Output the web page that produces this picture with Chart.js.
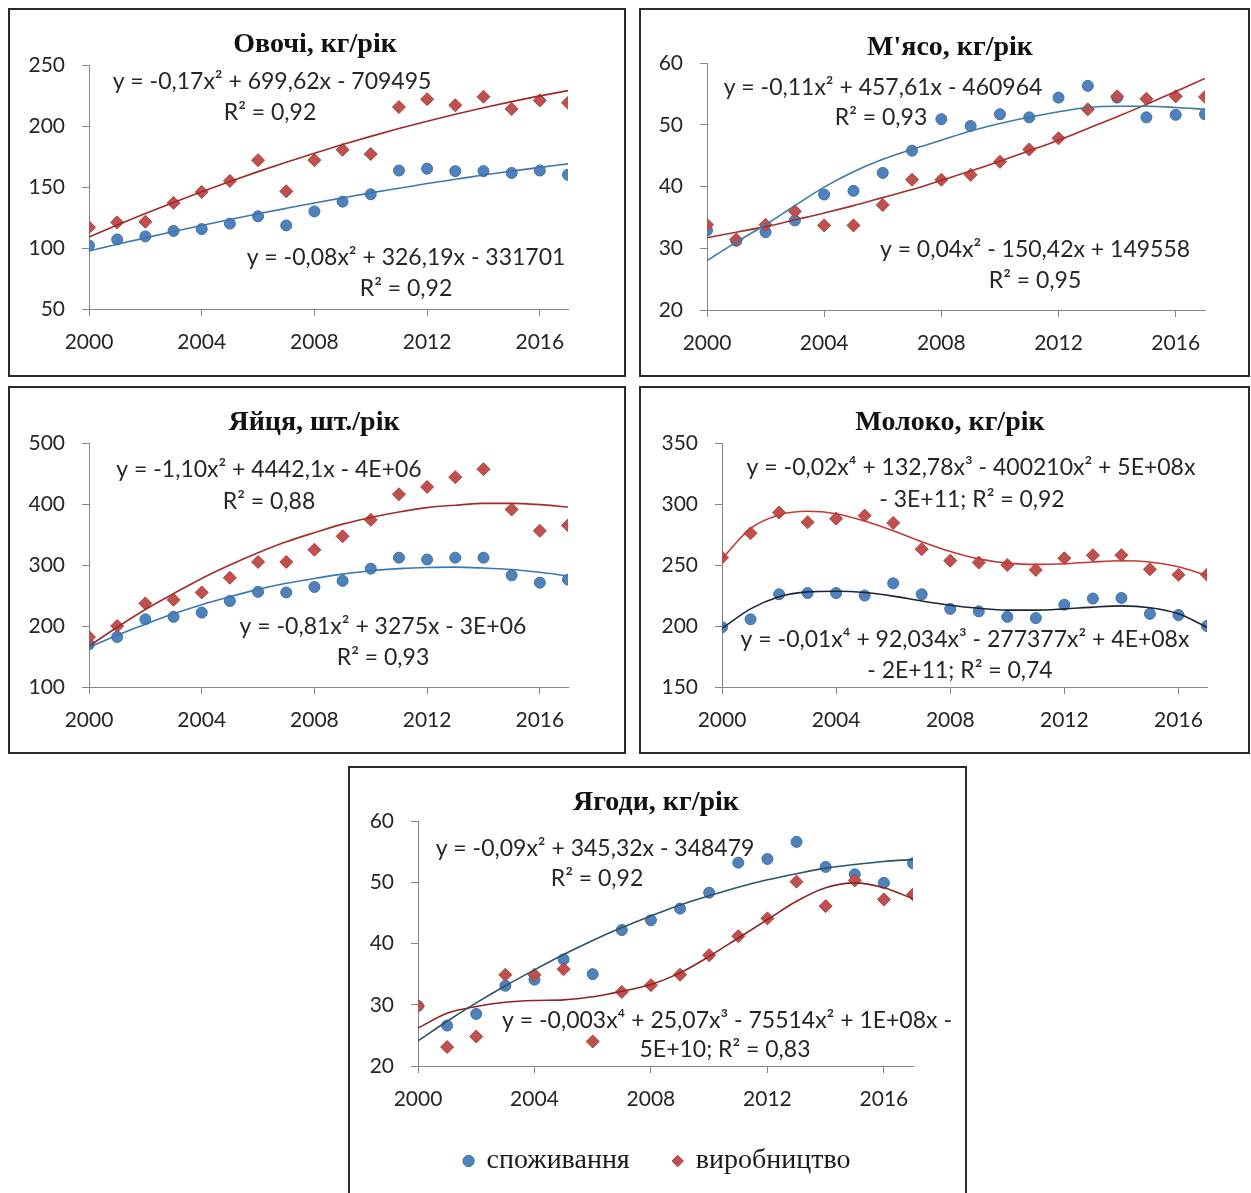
<!DOCTYPE html>
<html lang="uk">
<head>
<meta charset="utf-8">
<script src="https://cdn.jsdelivr.net/npm/chart.js@4.4.1/dist/chart.umd.min.js"></script>
<style>
  body { margin: 0; background: #fff; }
  #page { position: relative; width: 1251px; height: 1193px; overflow: hidden; background: #fff; }
  .panel { position: absolute; border: 2px solid #2a2a2a; background: #fff; }
  .panel canvas { display: block; }
</style>
</head>
<body>
<div id="page">
  <div class="panel" id="p1"><canvas></canvas></div>
  <div class="panel" id="p2"><canvas></canvas></div>
  <div class="panel" id="p3"><canvas></canvas></div>
  <div class="panel" id="p4"><canvas></canvas></div>
  <div class="panel" id="p5"><canvas></canvas></div>
</div>
<script>
// роки та підписи осі X
const years = [2000, 2001, 2002, 2003, 2004, 2005, 2006, 2007, 2008, 2009, 2010, 2011, 2012, 2013, 2014, 2015, 2016, 2017];
const xTicks = [2000, 2004, 2008, 2012, 2016];

// Овочі, кг/рік
const ovochiYTicks = [50, 100, 150, 200, 250];
const ovochiSpozh = [102, 107, 109.5, 114, 115.5, 120, 126, 118.5, 130, 138, 144, 163.5, 165, 163, 163, 161.5, 163.5, 160];
const ovochiVyrob = [117, 121, 121.5, 137, 146, 155, 172, 146.5, 172, 180.5, 177, 215.5, 222, 217, 224, 214, 221, 219];
const ovochiTrendSpozh = [97.5, 103, 108.3, 113.5, 118.5, 123.3, 128, 132.5, 136.9, 141.1, 145.2, 149, 152.8, 156.3, 159.8, 163, 166.1, 169];
const ovochiTrendVyrob = [109, 118.8, 128.2, 137.3, 146.1, 154.5, 162.6, 170.3, 177.7, 184.8, 191.5, 197.9, 203.9, 209.6, 215, 220, 224.7, 229];

// М'ясо, кг/рік
const myasoYTicks = [20, 30, 40, 50, 60];
const myasoSpozh = [32.9, 31.2, 32.6, 34.5, 38.7, 39.3, 42.2, 45.8, 50.9, 49.8, 51.7, 51.2, 54.4, 56.3, 54.4, 51.2, 51.6, 51.7];
const myasoVyrob = [33.8, 31.4, 33.8, 36, 33.7, 33.7, 37, 41.1, 41.1, 41.9, 44, 46, 47.8, 52.5, 54.6, 54.2, 54.6, 54.5];
const myasoTrendSpozh = [28, 31, 33.8, 36.9, 39.9, 42.4, 44.4, 46, 47.5, 49, 50.2, 51.2, 52.1, 52.8, 53, 53, 52.8, 52.5];
const myasoTrendVyrob = [31.7, 32.6, 33.5, 34.6, 35.7, 36.9, 38.2, 39.5, 41, 42.5, 44.1, 45.8, 47.5, 49.4, 51.3, 53.3, 55.4, 57.5];

// Яйця, шт./рік
const yaytsiaYTicks = [100, 200, 300, 400, 500];
const yaytsiaSpozh = [170, 182, 211, 215, 222, 241, 256, 255, 264, 274, 294, 312, 309, 312, 312, 283, 271, 276];
const yaytsiaVyrob = [182, 200, 237, 243, 255, 279, 305, 305, 325, 347, 374, 416, 428, 444, 457, 391, 356, 365];
const yaytsiaTrendSpozh = [165, 185, 203, 220, 235, 248, 260, 270, 278, 285, 290.5, 294, 296, 296.5, 295, 292.5, 288, 282];
const yaytsiaTrendVyrob = [167, 198, 227, 253, 278, 300, 320, 338, 353, 367, 378, 387, 394, 398, 401, 401, 399, 395];

// Молоко, кг/рік
const molokoYTicks = [150, 200, 250, 300, 350];
const molokoSpozh = [199, 205.5, 226, 227, 227, 225, 235, 226, 214, 212, 207.5, 206.5, 217.5, 222.5, 223, 210, 209, 200];
const molokoVyrob = [256, 276, 293, 285, 288, 290.5, 284.5, 263, 253.5, 252, 250, 246, 255.5, 258, 258, 246.5, 242, 242];
const molokoTrendSpozh = [198, 214, 224, 228, 228.5, 227.5, 224.5, 220.5, 217, 214.5, 213, 213, 214, 215.5, 216.5, 215, 210, 199];
const molokoTrendVyrob = [255, 280, 291, 294, 292, 286, 278, 269, 261, 255, 251.5, 250.5, 251, 252.5, 253.5, 252.5, 248.5, 241.5];

// Ягоди, кг/рік
const yahodyYTicks = [20, 30, 40, 50, 60];
const yahodySpozh = [29.8, 26.6, 28.5, 33.1, 34.1, 37.4, 35, 42.2, 43.8, 45.7, 48.3, 53.2, 53.8, 56.6, 52.5, 51.3, 49.9, 53.1];
const yahodyVyrob = [29.8, 23.1, 24.8, 34.9, 34.9, 35.8, 24, 32.1, 33.2, 34.9, 38.1, 41.2, 44.1, 50.1, 46.1, 50.3, 47.2, 48];
const yahodyTrendSpozh = [24.1, 27.3, 30.3, 33.1, 35.7, 38.2, 40.5, 42.6, 44.5, 46.3, 47.8, 49.2, 50.4, 51.4, 52.3, 52.9, 53.4, 53.7];
const yahodyTrendVyrob = [26.2, 28.6, 29.7, 30.4, 30.7, 30.8, 31.3, 32.2, 33.3, 35.2, 37.9, 40.9, 43.9, 46.9, 49.1, 49.9, 49.1, 47.3];

const BLUE = '#4f81bd';
const RED = '#c0504d';
const TICK_FONT = { family: 'Lato', size: 21 };
const TEXT_COLOR = '#262626';
const AXIS_COLOR = '#868686';
const Y_W = 60;   // ширина осі Y
const X_H = 50;   // висота осі X
const LEG_FONT = 28;
const LEG_PAD = 44;

// панелі: рамка [left, top, width, height], область графіка [left, right(2017), top, bottom] у координатах сторінки
const panels = [
  {
    id: 'p1', box: [8, 8, 618, 369], plot: [89, 568, 65, 309],
    yTicks: ovochiYTicks, spozh: ovochiSpozh, vyrob: ovochiVyrob,
    trendS: ovochiTrendSpozh, trendV: ovochiTrendVyrob, trendColors: ['#3d77b3', '#9e2b2b'],
    title: ['Овочі, кг/рік', 315, 45],
    notes: [
      ['y = -0,17x² + 699,62x - 709495', 272, 82],
      ['R² = 0,92', 270, 113],
      ['y = -0,08x² + 326,19x - 331701', 406, 258],
      ['R² = 0,92', 406, 289]
    ]
  },
  {
    id: 'p2', box: [639, 8, 611, 369], plot: [707, 1205, 63, 310],
    yTicks: myasoYTicks, spozh: myasoSpozh, vyrob: myasoVyrob,
    trendS: myasoTrendSpozh, trendV: myasoTrendVyrob, trendColors: ['#3c7ca0', '#a33030'],
    title: ["М'ясо, кг/рік", 950, 48],
    notes: [
      ['y = -0,11x² + 457,61x - 460964', 883, 88],
      ['R² = 0,93', 881, 118],
      ['y = 0,04x² - 150,42x + 149558', 1035, 250],
      ['R² = 0,95', 1035, 281]
    ]
  },
  {
    id: 'p3', box: [8, 386, 618, 368], plot: [89, 568, 443, 687],
    yTicks: yaytsiaYTicks, spozh: yaytsiaSpozh, vyrob: yaytsiaVyrob,
    trendS: yaytsiaTrendSpozh, trendV: yaytsiaTrendVyrob, trendColors: ['#3a78b0', '#a02c2c'],
    title: ['Яйця, шт./рік', 314, 423],
    notes: [
      ['y = -1,10x² + 4442,1x - 4E+06', 269, 470],
      ['R² = 0,88', 269, 502],
      ['y = -0,81x² + 3275x - 3E+06', 383, 627],
      ['R² = 0,93', 383, 658]
    ]
  },
  {
    id: 'p4', box: [639, 386, 611, 368], plot: [722, 1207, 443, 687],
    yTicks: molokoYTicks, spozh: molokoSpozh, vyrob: molokoVyrob,
    trendS: molokoTrendSpozh, trendV: molokoTrendVyrob, trendColors: ['#1c2633', '#c23a36'],
    title: ['Молоко, кг/рік', 950, 423],
    notes: [
      ['y = -0,02x⁴ + 132,78x³ - 400210x² + 5E+08x', 971, 468],
      ['- 3E+11; R² = 0,92', 972, 500],
      ['y = -0,01x⁴ + 92,034x³ - 277377x² + 4E+08x', 965, 640],
      ['- 2E+11; R² = 0,74', 960, 671]
    ]
  },
  {
    id: 'p5', box: [348, 766, 619, 480], plot: [418, 913, 821, 1066],
    legend: { dx: 22, centerY: 1161 },
    yTicks: yahodyYTicks, spozh: yahodySpozh, vyrob: yahodyVyrob,
    trendS: yahodyTrendSpozh, trendV: yahodyTrendVyrob, trendColors: ['#2b5468', '#8e2424'],
    title: ['Ягоди, кг/рік', 656, 803],
    notes: [
      ['y = -0,09x² + 345,32x - 348479', 595, 849],
      ['R² = 0,92', 597, 879],
      ['y = -0,003x⁴ + 25,07x³ - 75514x² + 1E+08x -', 727, 1021],
      ['5E+10; R² = 0,83', 725, 1050]
    ]
  }
];

// заголовок і рівняння трендів
const panelText = {
  id: 'panelText',
  afterDraw(chart, args, opts) {
    const ctx = chart.ctx;
    ctx.save();
    ctx.textAlign = 'center';
    ctx.textBaseline = 'middle';
    ctx.fillStyle = '#111';
    ctx.font = 'bold 28px "Liberation Serif"';
    ctx.fillText(opts.title[0], opts.title[1] - opts.ox, opts.title[2] - opts.oy);
    ctx.fillStyle = TEXT_COLOR;
    ctx.font = '23px Lato';
    opts.notes.forEach(n => ctx.fillText(n[0], n[1] - opts.ox, n[2] - opts.oy));
    ctx.restore();
  }
};

// зсув легенди: по центру панелі і на висоті, як в оригіналі
const legendShift = {
  id: 'legendShift',
  afterLayout(chart, args, opts) {
    const l = chart.legend;
    if (!l || !opts.on) return;
    const top = opts.centerY - LEG_PAD - LEG_FONT / 2;
    l.left += opts.dx;
    l.right += opts.dx;
    l.bottom += top - l.top;
    l.top = top;
  }
};

const toPoints = arr => years.map((x, i) => ({ x, y: arr[i] }));

panels.forEach(p => {
  const div = document.getElementById(p.id);
  const [bl, bt, bw, bh] = p.box;
  div.style.left = bl + 'px';
  div.style.top = bt + 'px';
  div.style.width = (bw - 4) + 'px';
  div.style.height = (bh - 4) + 'px';
  const cl = bl + 2, ct = bt + 2, cw = bw - 4, ch = bh - 4;
  const canvas = div.querySelector('canvas');
  canvas.width = cw;
  canvas.height = ch;

  const legendH = p.legend ? LEG_FONT + LEG_PAD + 10 : 0;
  const [pl, pr, pt, pb] = p.plot;

  new Chart(canvas.getContext('2d'), {
    type: 'scatter',
    data: {
      datasets: [
        {
          label: 'тренд споживання',
          data: toPoints(p.trendS),
          showLine: true,
          pointRadius: 0,
          borderColor: p.trendColors[0],
          borderWidth: 1.6,
          cubicInterpolationMode: 'monotone'
        },
        {
          label: 'тренд виробництво',
          data: toPoints(p.trendV),
          showLine: true,
          pointRadius: 0,
          borderColor: p.trendColors[1],
          borderWidth: 1.6,
          cubicInterpolationMode: 'monotone'
        },
        {
          label: 'виробництво',
          data: toPoints(p.vyrob),
          pointStyle: 'rectRot',
          pointRadius: 6.5,
          backgroundColor: RED,
          borderColor: '#a8423f',
          borderWidth: 1
        },
        {
          label: 'споживання',
          data: toPoints(p.spozh),
          pointStyle: 'circle',
          pointRadius: 5.5,
          backgroundColor: BLUE,
          borderColor: '#41719c',
          borderWidth: 1
        }
      ]
    },
    options: {
      responsive: false,
      animation: false,
      layout: {
        padding: {
          left: pl - cl - Y_W,
          right: cl + cw - pr,
          top: pt - ct,
          bottom: ch - (pb - ct) - X_H - legendH
        }
      },
      plugins: {
        title: { display: false },
        tooltip: { enabled: false },
        legend: {
          display: !!p.legend,
          position: 'bottom',
          labels: {
            usePointStyle: true,
            boxWidth: 8,
            boxHeight: 8,
            padding: LEG_PAD,
            color: '#1a1a1a',
            font: { family: 'Liberation Serif', size: LEG_FONT },
            filter: item => item.datasetIndex >= 2,
            sort: (a, b) => b.datasetIndex - a.datasetIndex
          }
        },
        legendShift: p.legend ? { on: true, dx: p.legend.dx, centerY: p.legend.centerY - ct } : { on: false },
        panelText: { title: p.title, notes: p.notes, ox: cl, oy: ct }
      },
      scales: {
        x: {
          type: 'linear',
          min: years[0],
          max: years[years.length - 1],
          afterBuildTicks: s => { s.ticks = xTicks.map(v => ({ value: v })); },
          afterFit: s => { s.height = X_H; },
          grid: { drawOnChartArea: false, drawTicks: true, tickLength: 7, color: AXIS_COLOR },
          border: { color: AXIS_COLOR, width: 1 },
          ticks: { font: TICK_FONT, color: TEXT_COLOR, padding: 14, maxRotation: 0, callback: v => String(v) }
        },
        y: {
          min: p.yTicks[0],
          max: p.yTicks[p.yTicks.length - 1],
          afterBuildTicks: s => { s.ticks = p.yTicks.map(v => ({ value: v })); },
          afterFit: s => { s.width = Y_W; },
          grid: { drawOnChartArea: false, drawTicks: true, tickLength: 7, color: AXIS_COLOR },
          border: { color: AXIS_COLOR, width: 1 },
          ticks: { font: TICK_FONT, color: TEXT_COLOR, padding: 17, callback: v => String(v) }
        }
      }
    },
    plugins: [panelText, legendShift]
  });
});
</script>
</body>
</html>
